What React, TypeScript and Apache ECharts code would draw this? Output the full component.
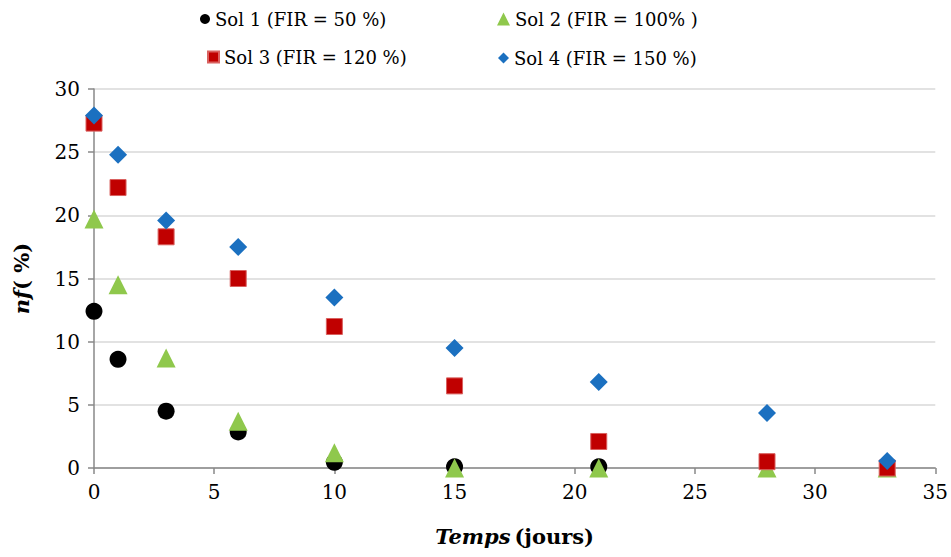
import React, { useEffect, useRef } from "react";
import * as echarts from "echarts";

const days = [0, 1, 3, 6, 10, 15, 21, 28, 33];
const sol1: (number | null)[] = [12.4, 8.6, 4.5, 2.85, 0.45, 0.1, 0.1, null, null];
const sol2: (number | null)[] = [19.7, 14.5, 8.7, 3.7, 1.2, 0, 0, 0, 0];
const sol3: (number | null)[] = [27.3, 22.2, 18.3, 15.0, 11.2, 6.5, 2.1, 0.5, 0];
const sol4: (number | null)[] = [27.9, 24.8, 19.6, 17.5, 13.5, 9.5, 6.8, 4.35, 0.55];
const seriesNames = [
  "Sol 1 (FIR = 50 %)",
  "Sol 2 (FIR = 100% )",
  "Sol 3 (FIR = 120 %)",
  "Sol 4 (FIR = 150 %)",
];

const FONT = "DejaVu Serif";

function pairs(vals: (number | null)[]) {
  return days.map((d, i) => [d, vals[i]]).filter((p) => p[1] !== null);
}

export default function App() {
  const ref = useRef<HTMLDivElement>(null);
  useEffect(() => {
    if (!ref.current) return;
    const chart = echarts.init(ref.current, null, { renderer: "svg" });
    const legendText = { fontFamily: FONT, fontSize: 18, color: "#000" };
    const mkLegend = (name: string, left: number, top: number, w: number, h: number) => ({
      data: [name],
      left,
      top,
      padding: 0,
      itemWidth: w,
      itemHeight: h,
      textStyle: legendText,
      selectedMode: false,
    });
    chart.setOption({
      animation: false,
      backgroundColor: "#fff",
      textStyle: { fontFamily: FONT },
      grid: { left: 94, right: 15, top: 89, bottom: 89 },
      legend: [
        mkLegend(seriesNames[0], 200, 10, 10, 10),
        mkLegend(seriesNames[1], 497, 10, 13, 13),
        mkLegend(seriesNames[2], 207, 48, 11, 11),
        mkLegend(seriesNames[3], 498, 49, 11, 11),
      ],
      xAxis: {
        type: "value",
        min: 0,
        max: 35,
        interval: 5,
        splitLine: { show: false },
        axisLine: { lineStyle: { color: "#888", width: 1.5 } },
        axisTick: { show: true, length: 6, lineStyle: { color: "#888", width: 1.5 } },
        axisLabel: { fontFamily: FONT, fontSize: 20, color: "#000", margin: 14 },
        name: "{a|Temps} {b|(jours)}",
        nameLocation: "middle",
        nameGap: 58,
        nameTextStyle: {
          rich: {
            a: { fontFamily: FONT, fontSize: 21, fontWeight: "bold", fontStyle: "italic", color: "#000" },
            b: { fontFamily: FONT, fontSize: 21, fontWeight: "bold", color: "#000" },
          },
        },
      },
      yAxis: {
        type: "value",
        min: 0,
        max: 30,
        interval: 5,
        splitLine: { show: true, lineStyle: { color: "#d9d9d9", width: 1.5 } },
        axisLine: { show: true, lineStyle: { color: "#888", width: 1.5 } },
        axisTick: { show: true, length: 6, lineStyle: { color: "#888", width: 1.5 } },
        axisLabel: { fontFamily: FONT, fontSize: 20, color: "#000", margin: 14 },
        name: "{a|nf}{b|( %)}",
        nameLocation: "middle",
        nameRotate: 90,
        nameGap: 62,
        nameTextStyle: {
          rich: {
            a: { fontFamily: FONT, fontSize: 21, fontWeight: "bold", fontStyle: "italic", color: "#000" },
            b: { fontFamily: FONT, fontSize: 21, fontWeight: "bold", color: "#000" },
          },
        },
      },
      series: [
        {
          name: seriesNames[0],
          type: "scatter",
          symbol: "circle",
          symbolSize: 17,
          itemStyle: { color: "#000000", opacity: 1 },
          data: pairs(sol1),
        },
        {
          name: seriesNames[1],
          type: "scatter",
          symbol: "triangle",
          symbolSize: 19,
          itemStyle: { color: "#8fc84c", opacity: 1 },
          data: pairs(sol2),
        },
        {
          name: seriesNames[2],
          type: "scatter",
          symbol: "rect",
          symbolSize: 16,
          itemStyle: { color: "#c00000", borderColor: "#d9615f", borderWidth: 1, opacity: 1 },
          data: pairs(sol3),
        },
        {
          name: seriesNames[3],
          type: "scatter",
          symbol: "diamond",
          symbolSize: 18,
          itemStyle: { color: "#1b70c0", opacity: 1 },
          data: pairs(sol4),
        },
      ],
    });
    return () => chart.dispose();
  }, []);
  return <div ref={ref} style={{ width: 951, height: 557, position: "absolute", left: 0, top: 0 }} />;
}
